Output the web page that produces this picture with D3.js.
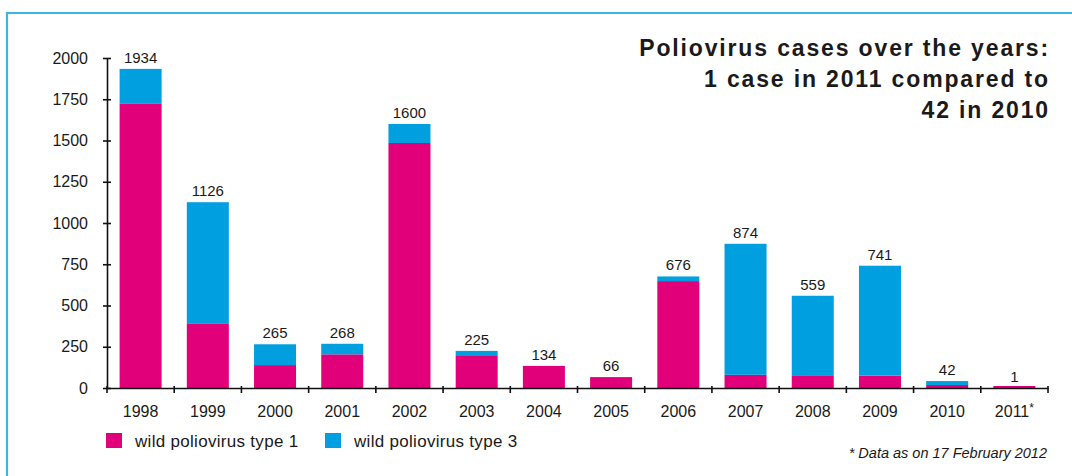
<!DOCTYPE html>
<html>
<head>
<meta charset="utf-8">
<script src="https://cdn.jsdelivr.net/npm/d3@7"></script>
<style>
  html, body { margin: 0; padding: 0; background: #fff; }
  svg { display: block; }
  text { font-family: "Liberation Sans", Arial, sans-serif; fill: #1a1a1a; }
</style>
</head>
<body>
<svg id="chart" width="1072" height="476"></svg>
<script>
// ---- data ----
const years = ["1998","1999","2000","2001","2002","2003","2004","2005","2006","2007","2008","2009","2010","2011"];
const footnoteMarks = ["","","","","","","","","","","","","","*"];
const totals = [1934, 1126, 265, 268, 1600, 225, 134, 66, 676, 874, 559, 741, 42, 1];
const type1 = [1722, 392, 139, 204, 1485, 194, 134, 66, 648, 80, 73, 75, 18, 1];
const type3 = totals.map((t, i) => t - type1[i]);
const yTicks = [0, 250, 500, 750, 1000, 1250, 1500, 1750, 2000];
const seriesNames = ["wild poliovirus type 1", "wild poliovirus type 3"];
const seriesColors = ["#e2007a", "#009fe0"];
const titleLines = ["Poliovirus cases over the years:", "1 case in 2011 compared to", "42 in 2010"];
const footnote = "* Data as on  17 February 2012";

const svg = d3.select("#chart");

// frame (top and left border)
svg.append("path")
  .attr("d", "M7,1000 L7,13 L1080,13")
  .attr("fill", "none")
  .attr("stroke", "#3cb4e6")
  .attr("stroke-width", 2.2);

const x = d3.scaleBand().domain(years).range([107, 1048]).paddingInner(0.375).paddingOuter(0.1875);
const y = d3.scaleLinear().domain([0, 2000]).range([388, 58]);

// stacked data
const rows = years.map((yr, i) => ({ year: yr, t1: type1[i], t3: type3[i], total: totals[i] }));
const stack = d3.stack().keys(["t1", "t3"]);
const stacked = stack(rows);

// non-zero segments keep a minimum visible thickness
const minH = 2;
svg.append("g").selectAll("g")
  .data(stacked)
  .join("g")
  .attr("fill", (d, i) => seriesColors[i])
  .selectAll("rect")
  .data(d => d)
  .join("rect")
  .attr("x", d => x(d.data.year))
  .attr("width", x.bandwidth())
  .attr("y", d => {
    const h = y(d[0]) - y(d[1]);
    return (d[1] > d[0] && h < minH) ? y(d[0]) - minH : y(d[1]);
  })
  .attr("height", d => {
    const h = y(d[0]) - y(d[1]);
    return d[1] > d[0] ? Math.max(minH, h) : 0;
  });

// value labels
svg.append("g").selectAll("text")
  .data(rows)
  .join("text")
  .attr("x", d => x(d.year) + x.bandwidth() / 2)
  .attr("y", d => y(d.total) - 6)
  .attr("text-anchor", "middle")
  .style("font-size", "15px")
  .text(d => d.total);

// y axis
const yAxis = svg.append("g")
  .attr("transform", "translate(107,0)")
  .call(d3.axisLeft(y).tickValues(yTicks).tickFormat(d3.format("d")).tickSizeOuter(0).tickSizeInner(4));
yAxis.select(".domain").attr("stroke", "#111").attr("stroke-width", 1.6);
yAxis.selectAll(".tick line").attr("x1", -4).attr("x2", 4).attr("stroke", "#111").attr("stroke-width", 1.6);
yAxis.selectAll(".tick text").attr("x", -19).style("font-size", "16px").style("font-family", "'Liberation Sans', Arial, sans-serif").attr("fill", "#1a1a1a");

// x axis
const xAxis = svg.append("g")
  .attr("transform", "translate(0,388)")
  .call(d3.axisBottom(x).tickSize(0).tickPadding(0).tickFormat(() => ""));
xAxis.select(".domain").attr("stroke", "#111").attr("stroke-width", 1.6);
// boundary ticks between bands
const bounds = d3.range(years.length + 1).map(i => x.range()[0] + i * x.step());
xAxis.selectAll(".bound")
  .data(bounds)
  .join("line")
  .attr("class", "bound")
  .attr("x1", d => d).attr("x2", d => d)
  .attr("y1", -2).attr("y2", 5)
  .attr("stroke", "#111").attr("stroke-width", 1.6);
// x labels
const xl = svg.append("g").selectAll("text")
  .data(years)
  .join("text")
  .attr("x", d => x(d) + x.bandwidth() / 2)
  .attr("y", 417)
  .attr("text-anchor", "middle")
  .style("font-size", "16px")
  .text(d => d);
xl.append("tspan")
  .attr("dy", -5)
  .style("font-size", "12px")
  .text((d, i) => footnoteMarks[i]);

// title
svg.append("g").selectAll("text")
  .data(titleLines)
  .join("text")
  .attr("x", 1050)
  .attr("y", (d, i) => 56 + i * 31)
  .attr("text-anchor", "end")
  .style("font-size", "23px")
  .style("font-weight", "bold")
  .style("letter-spacing", "1.85px")
  .attr("fill", "#111")
  .text(d => d);

// legend
const legendX = [106, 325];
const lg = svg.append("g").selectAll("g")
  .data(seriesNames)
  .join("g")
  .attr("transform", (d, i) => `translate(${legendX[i]},433)`);
lg.append("rect").attr("width", 16).attr("height", 15).attr("fill", (d, i) => seriesColors[i]);
lg.append("text").attr("x", 29).attr("y", 14).style("font-size", "17px").style("letter-spacing", "0.3px").text(d => d);

// footnote
svg.append("text")
  .attr("x", 1047)
  .attr("y", 458)
  .attr("text-anchor", "end")
  .style("font-size", "14.5px")
  .style("font-style", "italic")
  .text(footnote);
</script>
</body>
</html>
